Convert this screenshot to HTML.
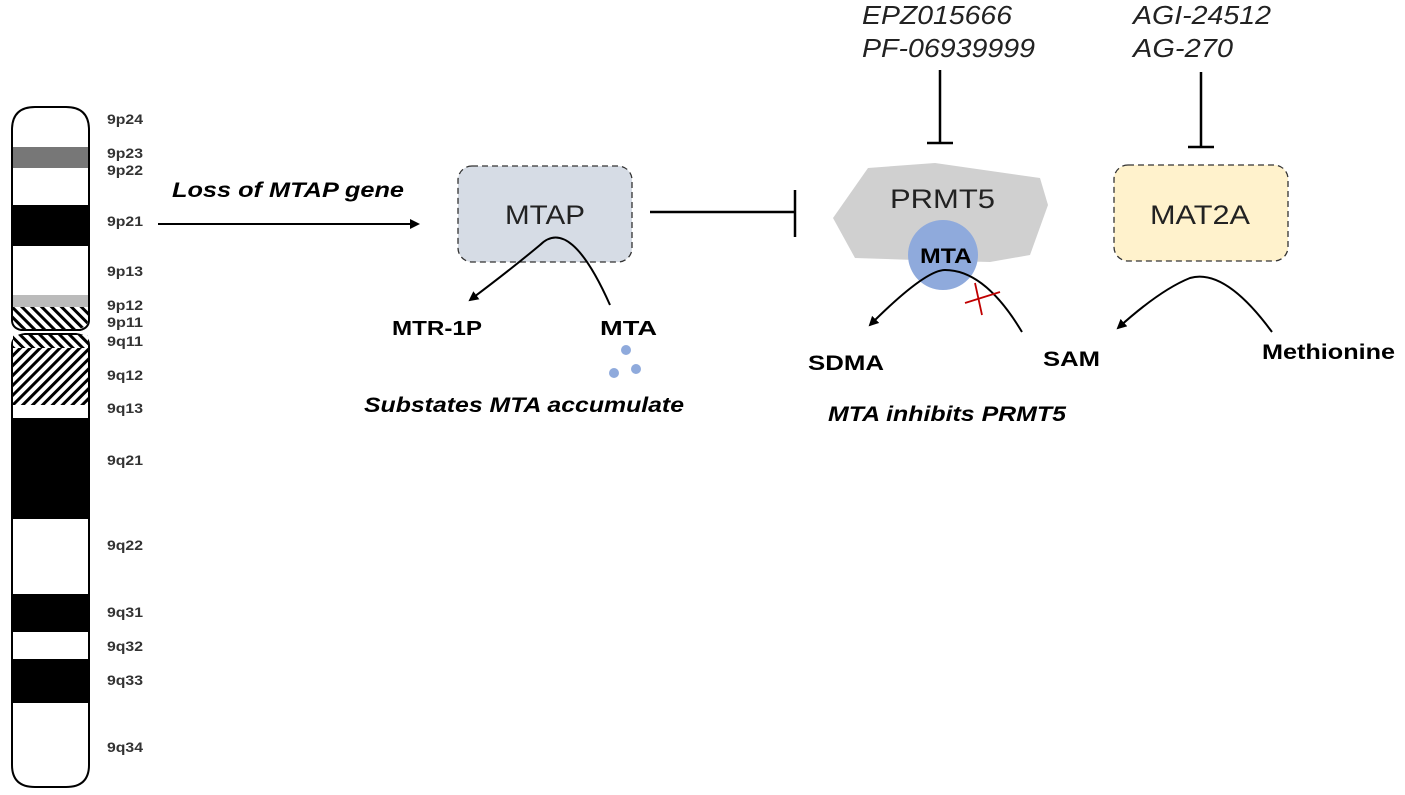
<!DOCTYPE html>
<html><head><meta charset="utf-8"><style>
body{margin:0;background:#fff;}
svg text{font-family:"Liberation Sans",Arial,sans-serif;}
</style></head><body>
<svg width="1405" height="790" viewBox="0 0 1405 790" xmlns="http://www.w3.org/2000/svg">
<defs>
<pattern id="h1" width="7" height="7" patternUnits="userSpaceOnUse" patternTransform="rotate(-45)"><rect width="7" height="7" fill="#fff"/><rect width="3" height="7" fill="#000"/></pattern>
<pattern id="h2" width="7" height="7" patternUnits="userSpaceOnUse" patternTransform="rotate(45)"><rect width="7" height="7" fill="#fff"/><rect width="3" height="7" fill="#000"/></pattern>
<marker id="ar" markerWidth="10" markerHeight="10" refX="8" refY="5" orient="auto" markerUnits="userSpaceOnUse"><path d="M0,0 L10,5 L0,10 z" fill="#000"/></marker>
</defs>
<path d="M12,130 Q12,107 35,107 L66,107 Q89,107 89,130 L89,320 Q89,328 80,330 L21,330 Q12,328 12,320 Z" fill="#fff" stroke="#000" stroke-width="2"/>
<rect x="13" y="147" width="75" height="21" fill="#777"/>
<rect x="13" y="205" width="75" height="41" fill="#000"/>
<rect x="13" y="295" width="75" height="12" fill="#bbb"/>
<path d="M13,307 L88,307 L88,320 Q88,327 78,329 L23,329 Q13,327 13,320 Z" fill="url(#h1)"/>
<path d="M12,345 Q12,336 25,334 L76,334 Q89,336 89,345 L89,765 Q89,787 66,787 L35,787 Q12,787 12,765 Z" fill="#fff" stroke="#000" stroke-width="2"/>
<rect x="13" y="335" width="75" height="13" fill="url(#h1)"/>
<rect x="13" y="348" width="75" height="57" fill="url(#h2)"/>
<rect x="13" y="418" width="75" height="101" fill="#000"/>
<rect x="13" y="594" width="75" height="38" fill="#000"/>
<rect x="13" y="659" width="75" height="44" fill="#000"/>
<g font-size="14" font-weight="bold" fill="#333">
<text x="107" y="124" textLength="36" lengthAdjust="spacingAndGlyphs">9p24</text><text x="107" y="158" textLength="36" lengthAdjust="spacingAndGlyphs">9p23</text><text x="107" y="175" textLength="36" lengthAdjust="spacingAndGlyphs">9p22</text>
<text x="107" y="226" textLength="36" lengthAdjust="spacingAndGlyphs">9p21</text><text x="107" y="276" textLength="36" lengthAdjust="spacingAndGlyphs">9p13</text><text x="107" y="310" textLength="36" lengthAdjust="spacingAndGlyphs">9p12</text>
<text x="107" y="327" textLength="36" lengthAdjust="spacingAndGlyphs">9p11</text><text x="107" y="346" textLength="36" lengthAdjust="spacingAndGlyphs">9q11</text><text x="107" y="380" textLength="36" lengthAdjust="spacingAndGlyphs">9q12</text>
<text x="107" y="413" textLength="36" lengthAdjust="spacingAndGlyphs">9q13</text><text x="107" y="465" textLength="36" lengthAdjust="spacingAndGlyphs">9q21</text><text x="107" y="550" textLength="36" lengthAdjust="spacingAndGlyphs">9q22</text>
<text x="107" y="617" textLength="36" lengthAdjust="spacingAndGlyphs">9q31</text><text x="107" y="651" textLength="36" lengthAdjust="spacingAndGlyphs">9q32</text><text x="107" y="685" textLength="36" lengthAdjust="spacingAndGlyphs">9q33</text>
<text x="107" y="752" textLength="36" lengthAdjust="spacingAndGlyphs">9q34</text>
</g>
<text x="172" y="197" font-size="21" font-weight="bold" font-style="italic" textLength="232" lengthAdjust="spacingAndGlyphs">Loss of MTAP gene</text>
<line x1="158" y1="224" x2="418" y2="224" stroke="#000" stroke-width="2" marker-end="url(#ar)"/>
<rect x="458" y="166" width="174" height="96" rx="14" fill="#d6dce5" stroke="#333" stroke-dasharray="6,4" stroke-width="1.3"/>
<text x="505" y="224" font-size="27" fill="#222" textLength="80" lengthAdjust="spacingAndGlyphs">MTAP</text>
<path d="M610,305 Q570,215 540,245 Q510,270 470,300" fill="none" stroke="#000" stroke-width="2" marker-end="url(#ar)"/>
<text x="392" y="335" font-size="20" font-weight="bold" textLength="90" lengthAdjust="spacingAndGlyphs">MTR-1P</text>
<text x="600" y="335" font-size="20" font-weight="bold" textLength="57" lengthAdjust="spacingAndGlyphs">MTA</text>
<circle cx="626" cy="350" r="5" fill="#8faadc"/><circle cx="614" cy="373" r="5" fill="#8faadc"/><circle cx="636" cy="369" r="5" fill="#8faadc"/>
<text x="364" y="412" font-size="21" font-weight="bold" font-style="italic" textLength="320" lengthAdjust="spacingAndGlyphs">Substates MTA accumulate</text>
<line x1="650" y1="212" x2="795" y2="212" stroke="#000" stroke-width="2.5"/>
<line x1="795" y1="190" x2="795" y2="237" stroke="#000" stroke-width="2.5"/>
<path d="M868,168 L935,163 L1040,178 L1048,205 L1030,255 L990,262 L915,260 L855,258 L833,218 Z" fill="#d0d0d0"/>
<text x="890" y="208" font-size="27" fill="#222" textLength="105" lengthAdjust="spacingAndGlyphs">PRMT5</text>
<circle cx="943" cy="255" r="35" fill="#8faadc"/>
<text x="920" y="263" font-size="21" font-weight="bold" textLength="52" lengthAdjust="spacingAndGlyphs">MTA</text>
<path d="M1022,332 Q985,270 945,270 Q925,270 870,325" fill="none" stroke="#000" stroke-width="2" marker-end="url(#ar)"/>
<line x1="965" y1="303" x2="1000" y2="292" stroke="#c00000" stroke-width="1.8"/>
<line x1="975" y1="283" x2="982" y2="315" stroke="#c00000" stroke-width="1.8"/>
<text x="808" y="370" font-size="21" font-weight="bold" textLength="76" lengthAdjust="spacingAndGlyphs">SDMA</text>
<text x="1043" y="366" font-size="21" font-weight="bold" textLength="57" lengthAdjust="spacingAndGlyphs">SAM</text>
<text x="828" y="421" font-size="21" font-weight="bold" font-style="italic" textLength="238" lengthAdjust="spacingAndGlyphs">MTA inhibits PRMT5</text>
<text x="862" y="24" font-size="26" font-style="italic" fill="#222" textLength="150" lengthAdjust="spacingAndGlyphs">EPZ015666</text>
<text x="862" y="57" font-size="26" font-style="italic" fill="#222" textLength="173" lengthAdjust="spacingAndGlyphs">PF-06939999</text>
<line x1="940" y1="70" x2="940" y2="143" stroke="#000" stroke-width="2.5"/>
<line x1="927" y1="143" x2="953" y2="143" stroke="#000" stroke-width="2.5"/>
<text x="1133" y="24" font-size="26" font-style="italic" fill="#222" textLength="138" lengthAdjust="spacingAndGlyphs">AGI-24512</text>
<text x="1133" y="57" font-size="26" font-style="italic" fill="#222" textLength="100" lengthAdjust="spacingAndGlyphs">AG-270</text>
<line x1="1201" y1="72" x2="1201" y2="147" stroke="#000" stroke-width="2.5"/>
<line x1="1188" y1="147" x2="1214" y2="147" stroke="#000" stroke-width="2.5"/>
<rect x="1114" y="165" width="174" height="96" rx="14" fill="#fff2cc" stroke="#333" stroke-dasharray="6,4" stroke-width="1.3"/>
<text x="1150" y="224" font-size="27" fill="#222" textLength="100" lengthAdjust="spacingAndGlyphs">MAT2A</text>
<path d="M1272,332 Q1225,268 1190,278 Q1160,290 1118,328" fill="none" stroke="#000" stroke-width="2" marker-end="url(#ar)"/>
<text x="1262" y="359" font-size="21" font-weight="bold" textLength="133" lengthAdjust="spacingAndGlyphs">Methionine</text>
</svg>
</body></html>
